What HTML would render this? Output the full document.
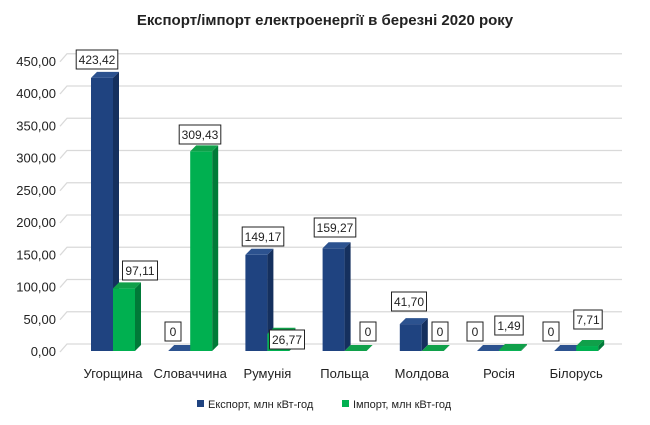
<!DOCTYPE html>
<html><head><meta charset="utf-8"><style>
body{margin:0;background:#fff}
svg{display:block;font-family:"Liberation Sans","DejaVu Sans",sans-serif}
</style></head><body>
<svg width="650" height="425" viewBox="0 0 650 425" xmlns="http://www.w3.org/2000/svg">
<text x="325" y="25" text-anchor="middle" font-size="15" font-weight="bold" fill="#222">Експорт/імпорт електроенергії в березні 2020 року</text>
<g id="grid" stroke="#d9d9d9" stroke-width="1.3" fill="none"></g>
<g id="yl" font-size="13" fill="#222" text-anchor="end"></g>
<g id="bars"></g>
<g id="lab"></g>
<g id="xl" font-size="13" fill="#222" text-anchor="middle"></g>
<rect x="197" y="400" width="7" height="7" fill="#1f4380"/>
<text x="208" y="408" font-size="11" fill="#222">Експорт, млн кВт-год</text>
<rect x="342" y="400" width="7" height="7" fill="#00b050"/>
<text x="353" y="408" font-size="11" fill="#222">Імпорт, млн кВт-год</text>
</svg>
<script>
var ns="http://www.w3.org/2000/svg";
function el(p,t,a,txt){var e=document.createElementNS(ns,t);for(var k in a)e.setAttribute(k,a[k]);if(txt!==undefined)e.textContent=txt;document.getElementById(p).appendChild(e);return e;}
var base=351,k=0.645,dx=7,dy=-8;
for(var i=0;i<=9;i++){var v=i*50,yf=base-v*k;
 el("grid","path",{d:"M60 "+(yf+1)+" L"+(60+dx)+" "+(yf+1+dy)+" L622 "+(yf+1+dy)});
 el("yl","text",{x:56,y:yf+5},(v.toFixed(2)).replace(".",","));}
var cats=["Угорщина","Словаччина","Румунія","Польща","Молдова","Росія","Білорусь"];
var ex=[423.42,0,149.17,159.27,41.70,0,0],im=[97.11,309.43,26.77,0,0,1.49,7.71];
var exC=[97,173,263,335,409,475,551],exY=[50,322,227,218,292,322,322];
var imC=[140,200,287,368,440,509,588],imY=[261,125,330,322,322,316,310];
var bw=22;
function bar(x,v,c){
 var h=v*k,t=base-h,d=6,u=-6;
 if(h>0){
 el("bars","rect",{x:x,y:t,width:bw,height:h,fill:c[0]});
 el("bars","path",{d:"M"+(x+bw)+" "+t+" l"+d+" "+u+" l0 "+h+" l"+(-d)+" "+(-u)+"z",fill:c[2]});}
 el("bars","path",{d:"M"+x+" "+t+" l"+d+" "+u+" l"+bw+" 0 l"+(-d)+" "+(-u)+"z",fill:c[1]});
}
function lab(v,cx,by){
 var s=v===0?"0":v.toFixed(2).replace(".",",");
 var w=s.length===1?16:s.length*6.6+2;
 el("lab","rect",{x:cx-w/2,y:by,width:w,height:19,fill:"#fff",stroke:"#222","stroke-width":1});
 el("lab","text",{x:cx,y:by+14,"font-size":12,"text-anchor":"middle",fill:"#222"},s);
}
for(var j=0;j<7;j++){var c=113+j*77.2;
 bar(c-22,ex[j],["#1f4380","#2c528f","#15305e"]);
 bar(c,im[j],["#00b050","#10a04a","#007a38"]);
 lab(ex[j],exC[j],exY[j]);lab(im[j],imC[j],imY[j]);
 el("xl","text",{x:c,y:378},cats[j]);}
</script>
</body></html>
